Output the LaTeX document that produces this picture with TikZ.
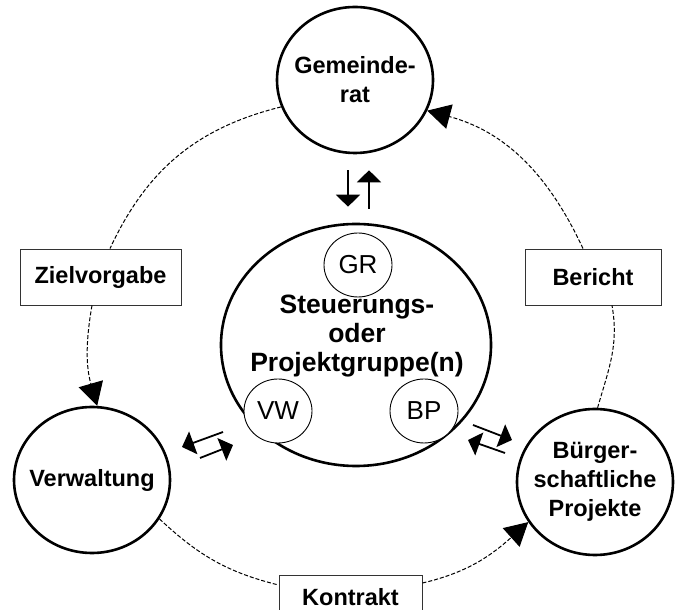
\documentclass[tikz,border=0pt]{standalone}
\usepackage{fontspec}
\setmainfont{Liberation Sans}
\usetikzlibrary{arrows.meta,calc,shapes.geometric}

\begin{document}
\begin{tikzpicture}[x=1pt,y=1pt]
\tikzset{rund/.style={ellipse,draw,line width=2.6pt,fill=white,minimum width=156pt,minimum height=146pt,
  inner xsep=-12pt,inner ysep=0pt,align=center,font=\bfseries\fontsize{23.5}{29}\selectfont},
 klein/.style={ellipse,draw,line width=0.9pt,fill=white,minimum width=68pt,minimum height=64pt,inner sep=0pt,
  font=\fontsize{26}{30}\selectfont},
 kasten/.style={draw=black!80,line width=0.9pt,fill=white,minimum height=56pt,inner sep=0pt,
  font=\bfseries\fontsize{23.5}{29}\selectfont},
 ring/.style={line width=1pt,dash pattern=on 4pt off 2pt},
 ringpfeil/.style={ring,-{Triangle[length=23pt,width=25pt]}},
 pfeil/.style={line width=1.8pt,-{Triangle[length=12pt,width=24pt]}}}
\useasboundingbox (0,0) rectangle (677,610);
\clip (0,0) rectangle (677,610);
% Kreise und Kaesten
\node[rund] (gemeinderat) at (355,530) {Gemeinde-\\rat};
\node[rund] (verwaltung) at (92,130) {Verwaltung};
\node[rund] (buerger) at (595,128) {Bürger-\\schaftliche\\Projekte};
\node[rund,minimum width=270pt,minimum height=242pt] (gruppe) at (356,265) {};
\node[font=\bfseries\fontsize{26.5}{29}\selectfont,align=center] (gruppetxt) at (357,274) {Steuerungs-\\oder\\Projektgruppe(n)};
\node[klein] (gr) at (358,345) {GR};
\node[klein] (vw) at (278,199) {VW};
\node[klein] (bp) at (424,199) {BP};
\node[kasten,minimum width=161pt] (ziel) at (100.5,333) {Zielvorgabe};
\node[kasten,minimum width=136pt] (bericht) at (593,333) {Bericht};
\node[kasten,minimum width=143pt,minimum height=44pt] (kontrakt) at (350.5,13) {Kontrakt};
% gestrichelter Kreislauf
\draw[ring] (gemeinderat.200) to[out=194,in=65] ([xshift=9.5pt]ziel.north);
\draw[ringpfeil] ([xshift=-8.5pt]ziel.south) to[out=260,in=106] (verwaltung.86);
\draw[ring] (verwaltung.-30) to[out=-43,in=166] ([yshift=12pt]kontrakt.west);
\draw[ringpfeil] ([yshift=14pt]kontrakt.east) to[out=13,in=222] (buerger.211);
\draw[ring] (buerger.88) to[out=74,in=-80] ([xshift=19pt]bericht.south);
\draw[ringpfeil] ([xshift=-10pt]bericht.north) to[out=115,in=-15] (gemeinderat.-23);
% Doppelpfeile
\draw[pfeil] ([xshift=-7pt,yshift=-16pt]gemeinderat.south) -- ([xshift=-8pt,yshift=16pt]gruppe.north);
\draw[pfeil] ([xshift=13pt,yshift=14pt]gruppe.north) -- ([xshift=14pt,yshift=-16pt]gemeinderat.south);
\coordinate (vwA) at (223,178); \coordinate (vwB) at (182,163);
\coordinate (vwC) at (200,152); \coordinate (vwD) at (233,165);
\coordinate (bpA) at (473,185); \coordinate (bpB) at (512,170);
\coordinate (bpC) at (505,157); \coordinate (bpD) at (468,170);
\draw[pfeil] (vwA) -- (vwB);
\draw[pfeil] (vwC) -- (vwD);
\draw[pfeil] (bpA) -- (bpB);
\draw[pfeil] (bpC) -- (bpD);
\end{tikzpicture}
\end{document}
